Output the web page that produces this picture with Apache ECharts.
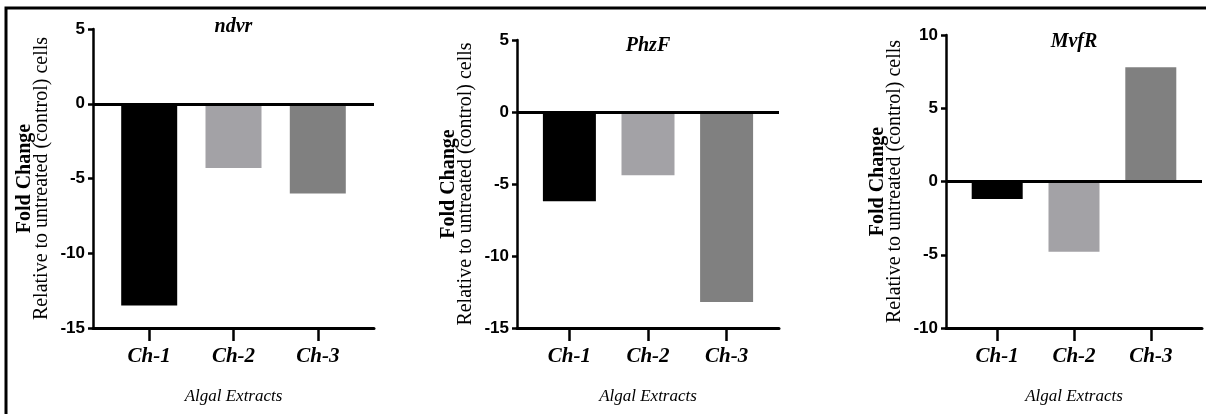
<!DOCTYPE html>
<html>
<head>
<meta charset="utf-8">
<script src="https://cdn.jsdelivr.net/npm/echarts@6/dist/echarts.min.js"></script>
<style>
  html, body { margin: 0; padding: 0; background: #fff; }
  #chart { width: 1206px; height: 414px; }
</style>
</head>
<body>
<div id="chart"></div>
<script>
var chart = echarts.init(document.getElementById('chart'));

// data
var categories = ['Ch-1', 'Ch-2', 'Ch-3'];
var genes = ['ndvr', 'PhzF', 'MvfR'];
var ndvrValues = [-13.5, -4.3, -6.0];
var phzfValues = [-6.2, -4.4, -13.2];
var mvfrValues = [-1.2, -4.8, 7.8];
var barColors = ['#000000', '#a3a2a6', '#808080'];

var panelValues = [ndvrValues, phzfValues, mvfrValues];
// y axis ranges per panel
var yMin = [-15, -15, -10];
var yMax = [5, 5, 10];

// layout per panel (px)
var grids = [
    {left: 93, top: 29, width: 281, height: 299},
    {left: 517, top: 40, width: 262, height: 288},
    {left: 946, top: 35, width: 256, height: 293}
];
var barWidths = [56, 53, 51];
var titleTop = [17, 36, 32];

// categories sit at 2, 5, 8 on a 0..10 axis so the axis line overhangs like the original
function catPos(i) { return 2 + 3 * i; }
var tickPos = categories.map(function (c, i) { return catPos(i); });

var serif = '"Liberation Serif", "Times New Roman", serif';
var sans = '"Liberation Sans", Arial, sans-serif';

var option = {
    backgroundColor: '#fff',
    animation: false,
    title: [],
    grid: [],
    xAxis: [],
    yAxis: [],
    series: [],
    graphic: [{
        type: 'rect',
        shape: {x: 6, y: 8, width: 1230, height: 430},
        style: {fill: 'none', stroke: '#000', lineWidth: 3},
        silent: true
    }]
};

for (var p = 0; p < 3; p++) {
    var g = grids[p];
    option.grid.push({left: g.left, top: g.top, width: g.width, height: g.height, containLabel: false});
    option.title.push({
        text: genes[p],
        left: g.left + g.width / 2,
        top: titleTop[p],
        textAlign: 'center',
        padding: 0,
        textStyle: {fontFamily: serif, fontStyle: 'italic', fontWeight: 'bold', fontSize: 20, color: '#000'}
    });
    option.xAxis.push({
        type: 'value',
        gridIndex: p,
        min: 0,
        max: 10,
        splitLine: {show: false},
        axisLine: {onZero: false, lineStyle: {color: '#000', width: 3}},
        axisTick: {show: true, customValues: tickPos, length: 13, lineStyle: {color: '#000', width: 2.5}},
        axisLabel: {
            customValues: tickPos,
            margin: 18,
            fontFamily: serif, fontStyle: 'italic', fontWeight: 'bold', fontSize: 21, color: '#000',
            formatter: function (v) { return categories[Math.round((v - 2) / 3)]; }
        },
        name: 'Algal Extracts',
        nameLocation: 'middle',
        nameGap: 60,
        nameTextStyle: {fontFamily: serif, fontStyle: 'italic', fontSize: 17, color: '#000'}
    });
    option.yAxis.push({
        type: 'value',
        gridIndex: p,
        min: yMin[p],
        max: yMax[p],
        interval: 5,
        splitLine: {show: false},
        axisLine: {show: true, lineStyle: {color: '#000', width: 2.5}},
        axisTick: {show: true, length: 5, lineStyle: {color: '#000', width: 2.5}},
        axisLabel: {margin: 8, fontFamily: sans, fontWeight: 'bold', fontSize: 17, color: '#000'},
        name: '{b|Fold Change}\n{r|Relative to untreated (control) cells}',
        nameLocation: 'middle',
        nameRotate: 90,
        nameGap: 43,
        nameTextStyle: {
            color: '#000',
            align: 'center',
            rich: {
                b: {fontFamily: serif, fontWeight: 'bold', fontSize: 20, lineHeight: 17, align: 'center', color: '#000'},
                r: {fontFamily: serif, fontSize: 20, lineHeight: 17, align: 'center', color: '#000'}
            }
        }
    });
    option.series.push({
        type: 'bar',
        xAxisIndex: p,
        yAxisIndex: p,
        barWidth: barWidths[p],
        data: panelValues[p].map(function (v, i) {
            return {value: [catPos(i), v], itemStyle: {color: barColors[i]}};
        }),
        markLine: {
            silent: true,
            symbol: 'none',
            label: {show: false},
            lineStyle: {color: '#000', width: 3, type: 'solid'},
            data: [{yAxis: 0}]
        }
    });
}

chart.setOption(option);
window.addEventListener('resize', function () { chart.resize(); });
</script>
</body>
</html>
